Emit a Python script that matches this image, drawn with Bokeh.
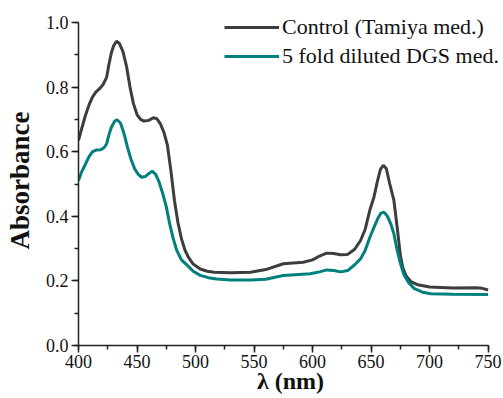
from bokeh.plotting import figure
from bokeh.models import Range1d, Legend, LegendItem, SingleIntervalTicker, NumeralTickFormatter
from bokeh.embed import file_html
from bokeh.resources import INLINE

# Control (Tamiya med.)
ctrl_wl = [400, 403, 406, 409, 412, 415, 418, 421, 424, 426, 428, 430, 432.5, 435, 438, 441, 444, 447,
           450, 453, 456, 460, 464, 467, 470, 473, 476, 479, 482, 485, 488, 491, 494, 498, 504, 510, 516,
           530, 547, 560, 575, 592, 600, 606, 612, 618, 624, 630, 636, 641, 645, 649, 652.5, 655.5, 658,
           660.4, 663, 666, 669.5, 672.5, 675, 677, 680, 684, 690, 700, 720, 740, 745, 750]
ctrl_ab = [0.635, 0.675, 0.713, 0.745, 0.770, 0.785, 0.795, 0.808, 0.830, 0.870, 0.905, 0.928, 0.942, 0.935,
           0.910, 0.865, 0.800, 0.748, 0.715, 0.700, 0.695, 0.697, 0.705, 0.702, 0.686, 0.660, 0.620, 0.540,
           0.449, 0.380, 0.330, 0.295, 0.273, 0.252, 0.237, 0.230, 0.227, 0.225, 0.227, 0.235, 0.253, 0.258,
           0.265, 0.277, 0.286, 0.285, 0.281, 0.282, 0.298, 0.325, 0.360, 0.420, 0.460, 0.510, 0.545, 0.558,
           0.548, 0.500, 0.449, 0.360, 0.280, 0.242, 0.215, 0.198, 0.188, 0.181, 0.178, 0.179, 0.177, 0.172]

# 5 fold diluted DGS med.
dgs_wl = [400, 403, 406, 409, 412, 415, 419, 422, 424, 426, 428, 431, 433, 436, 439, 442, 445, 448, 451,
          454, 457, 460, 463, 466, 469, 472, 475, 478, 481, 484, 488, 493, 498, 504, 511, 518, 530, 547, 560,
          575, 598, 606, 612, 618, 624, 630, 636, 641, 645, 649, 652.5, 656, 658.5, 661, 664, 667, 669.5,
          672, 675, 678, 682, 687, 694, 701, 720, 750]
dgs_ab = [0.511, 0.540, 0.562, 0.585, 0.600, 0.605, 0.606, 0.613, 0.624, 0.652, 0.675, 0.695, 0.699, 0.688,
          0.655, 0.612, 0.575, 0.547, 0.530, 0.521, 0.523, 0.532, 0.540, 0.530, 0.505, 0.470, 0.430, 0.375,
          0.330, 0.294, 0.265, 0.248, 0.230, 0.217, 0.210, 0.206, 0.203, 0.203, 0.205, 0.217, 0.222, 0.228,
          0.234, 0.232, 0.228, 0.232, 0.250, 0.268, 0.295, 0.335, 0.366, 0.395, 0.410, 0.413, 0.400, 0.375,
          0.346, 0.300, 0.255, 0.220, 0.195, 0.176, 0.165, 0.160, 0.159, 0.158]

series_names = ["Control (Tamiya med.)", "5 fold diluted DGS med."]
series_colors = ["#3d3d3d", "#00807c"]

SERIF = "Liberation Serif"

# frame: x 78..502 px (axis drawn 400..750), y 15..345 px (axis drawn 0..1.0)
p = figure(width=503, height=398, output_backend="svg", toolbar_location=None,
           x_range=Range1d(400, 762.3), y_range=Range1d(0, 1.0217),
           min_border_left=78, min_border_right=1, min_border_top=15, min_border_bottom=53)
p.outline_line_color = None
p.grid.visible = False
p.background_fill_color = "white"
p.border_fill_color = "white"

r1 = p.line(ctrl_wl, ctrl_ab, line_color=series_colors[0], line_width=3)
r2 = p.line(dgs_wl, dgs_ab, line_color=series_colors[1], line_width=3)

for ax in (p.xaxis[0], p.yaxis[0]):
    ax.axis_line_color = "#222222"
    ax.axis_line_width = 1.5
    ax.major_tick_line_color = "#222222"
    ax.minor_tick_line_color = "#222222"
    ax.major_tick_line_width = 1.5
    ax.minor_tick_line_width = 1.5
    ax.major_tick_out = 7
    ax.major_tick_in = 0
    ax.minor_tick_out = 4
    ax.minor_tick_in = 0
    ax.major_label_text_font = SERIF
    ax.major_label_text_font_size = "18px"
    ax.major_label_text_color = "#111111"
    ax.axis_label_text_font = SERIF
    ax.axis_label_text_font_style = "bold"
    ax.axis_label_text_color = "#111111"

p.xaxis[0].bounds = (400, 750)
p.yaxis[0].bounds = (0, 1.0)

p.xaxis[0].ticker = SingleIntervalTicker(interval=50, num_minor_ticks=2)
p.yaxis[0].ticker = SingleIntervalTicker(interval=0.2, num_minor_ticks=2)
p.yaxis[0].formatter = NumeralTickFormatter(format="0.0")

p.xaxis[0].axis_label = "λ (nm)"
p.xaxis[0].axis_label_text_font_size = "24px"
p.xaxis[0].axis_label_standoff = -3
p.xaxis[0].major_label_standoff = 2
p.yaxis[0].axis_label = "Absorbance"
p.yaxis[0].axis_label_text_font_size = "27px"
p.yaxis[0].axis_label_standoff = 8
p.yaxis[0].major_label_standoff = 3

legend = Legend(items=[LegendItem(label=series_names[0], renderers=[r1]),
                       LegendItem(label=series_names[1], renderers=[r2])],
                location=(146, 276), padding=0, margin=0, spacing=3,
                glyph_width=55, glyph_height=22, label_height=22, label_standoff=3,
                label_text_font=SERIF, label_text_font_size="22px", label_text_color="#111111",
                border_line_color=None, background_fill_alpha=0)
p.add_layout(legend)

open("out.html", "w").write(file_html(p, INLINE))
